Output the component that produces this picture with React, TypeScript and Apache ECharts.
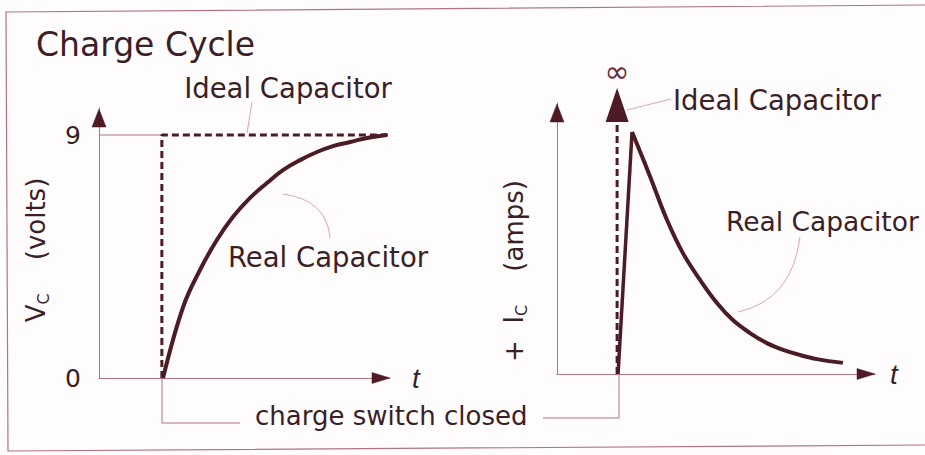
import React, { useEffect, useRef } from "react";
import * as echarts from "echarts";

// Voltage across the capacitor (left panel), x in arbitrary time units (0..100), y in volts
const voltageT = [22, 28.9, 34.7, 40.5, 46, 51.9, 57.7, 63.2, 69.1, 74.9, 80.4, 86.3, 92.1, 99];
const voltageV = [0, 2.63, 4.0, 5.11, 5.96, 6.67, 7.22, 7.7, 8.07, 8.37, 8.59, 8.74, 8.89, 9.0];
const idealVoltageT = [21.6, 21.6, 99.3];
const idealVoltageV = [0, 9, 9];
const guideT = [0, 21.6];
const guideV = [9, 9];
const voltageTicks = [0, 9];

// Current (right panel)
const currentRiseT = [19.2, 23.6];
const currentRiseI = [0, 8.93];
const currentT = [23.6, 29.2, 34.6, 39.6, 45.0, 50.3, 55.3, 60.7, 66.0, 71.1, 76.4, 81.8, 89.9];
const currentI = [8.93, 7.31, 5.68, 4.46, 3.47, 2.62, 1.99, 1.51, 1.14, 0.89, 0.7, 0.55, 0.41];
const idealCurrentT = [18.9, 18.9];
const idealCurrentI = [0, 9.3];
const infinityPoint = [18.9, 9.93];

const T_MAX = 100;
const Y_MAX = 10;

const FONT = '"DejaVu Sans", sans-serif';
const TEXT = "#3b1f26";
const AXIS = "#b27482";
const ARROW = "#4e1a26";
const CURVE = "#4b1c25";
const LEADER = "#dba6b0";

const zip = (a: number[], b: number[]) => a.map((v, i) => [v, b[i]]);

export default function App() {
  const ref = useRef<HTMLDivElement>(null);
  useEffect(() => {
    if (!ref.current) return;
    const chart = echarts.init(ref.current, undefined, { renderer: "svg" });
    const xAxisBase = (gridIndex: number, gap: number) => ({
      gridIndex,
      type: "value",
      min: 0,
      max: T_MAX,
      axisLine: { show: true, onZero: false, lineStyle: { color: AXIS, width: 1 } },
      axisTick: { show: false },
      axisLabel: { show: false },
      splitLine: { show: false },
      name: "t",
      nameLocation: "end",
      nameGap: gap,
      nameTextStyle: {
        fontSize: 28,
        fontStyle: "italic",
        fontFamily: '"Liberation Sans", sans-serif',
        color: TEXT,
        verticalAlign: "middle",
      },
    });
    const yAxisBase = (gridIndex: number, labels: boolean) => ({
      gridIndex,
      type: "value",
      min: 0,
      max: Y_MAX,
      interval: 1,
      axisLine: { show: true, onZero: false, lineStyle: { color: AXIS, width: 1 } },
      axisTick: { show: false },
      axisLabel: {
        show: labels,
        margin: 18,
        fontSize: 25,
        fontFamily: FONT,
        color: TEXT,
        formatter: (v: number) => (voltageTicks.includes(v) ? String(v) : ""),
      },
      splitLine: { show: false },
    });

    const text = (t: string, x: number, y: number, size: number, align = "center") => ({
      type: "text",
      x,
      y,
      silent: true,
      style: { text: t, fontSize: size, fontFamily: FONT, fill: TEXT, align, verticalAlign: "middle" },
    });

    chart.setOption({
      animation: false,
      backgroundColor: "#fefcfc",
      grid: [
        { left: 99, top: 108, width: 291, height: 270 },
        { left: 557, top: 103, width: 318, height: 271 },
      ],
      xAxis: [xAxisBase(0, 22), xAxisBase(1, 15)],
      yAxis: [yAxisBase(0, true), yAxisBase(1, false)],
      series: [
        {
          type: "line",
          xAxisIndex: 0,
          yAxisIndex: 0,
          data: zip(guideT, guideV),
          symbol: "none",
          lineStyle: { color: AXIS, width: 1 },
        },
        {
          type: "line",
          xAxisIndex: 0,
          yAxisIndex: 0,
          data: zip(idealVoltageT, idealVoltageV),
          symbol: "none",
          lineStyle: { color: CURVE, width: 3, type: [7, 4] },
        },
        {
          type: "line",
          xAxisIndex: 0,
          yAxisIndex: 0,
          data: zip(voltageT, voltageV),
          symbol: "none",
          smooth: 0.4,
          lineStyle: { color: CURVE, width: 4 },
        },
        {
          type: "line",
          xAxisIndex: 1,
          yAxisIndex: 1,
          data: zip(idealCurrentT, idealCurrentI),
          symbol: "none",
          lineStyle: { color: CURVE, width: 3, type: [7, 4] },
        },
        {
          type: "scatter",
          xAxisIndex: 1,
          yAxisIndex: 1,
          data: [infinityPoint],
          symbol: "triangle",
          symbolSize: [23, 34],
          itemStyle: { color: ARROW, opacity: 1 },
          label: {
            show: true,
            formatter: "∞",
            position: "top",
            distance: 1,
            fontSize: 30,
            fontFamily: FONT,
            color: "#6a2a36",
          },
        },
        {
          type: "line",
          xAxisIndex: 1,
          yAxisIndex: 1,
          data: zip(currentRiseT, currentRiseI),
          symbol: "none",
          lineStyle: { color: CURVE, width: 3.5 },
        },
        {
          type: "line",
          xAxisIndex: 1,
          yAxisIndex: 1,
          data: zip(currentT, currentI),
          symbol: "none",
          smooth: 0.4,
          lineStyle: { color: CURVE, width: 4 },
        },
      ],
    });

    // arrowheads at the axis ends, positioned through the axes' own scales
    const arrows: any[] = [];
    [0, 1].forEach((g) => {
      const xe = chart.convertToPixel({ gridIndex: g } as any, [T_MAX, 0]) as number[];
      const ye = chart.convertToPixel({ gridIndex: g } as any, [0, Y_MAX]) as number[];
      arrows.push({
        type: "polygon",
        silent: true,
        z: 10,
        shape: { points: [[xe[0], xe[1]], [xe[0] - 18, xe[1] - 5.5], [xe[0] - 18, xe[1] + 5.5]] },
        style: { fill: ARROW, stroke: ARROW, lineWidth: 0.5, opacity: 1 },
      });
      arrows.push({
        type: "polygon",
        silent: true,
        z: 10,
        shape: { points: [[ye[0], ye[1] + 1], [ye[0] - 7, ye[1] + 19], [ye[0] + 7, ye[1] + 19]] },
        style: { fill: ARROW, stroke: ARROW, lineWidth: 0.5, opacity: 1 },
      });
    });

    const yTitle = (main: string, x: number, y: number) => ({
      type: "text",
      x,
      y,
      rotation: Math.PI / 2,
      silent: true,
      style: {
        text: main,
        fontSize: 26,
        fontFamily: FONT,
        fill: TEXT,
        align: "center",
        verticalAlign: "middle",
        rich: {
          v: { fontSize: 26, fontFamily: FONT, fill: TEXT, lineHeight: 30 },
          s: { fontSize: 16, fontFamily: FONT, fill: TEXT, lineHeight: 26, verticalAlign: "bottom" },
        },
      },
    });

    chart.setOption({
      graphic: [
        {
          type: "polyline",
          silent: true,
          shape: { points: [[925, 5], [6, 12], [8, 451], [925, 445]] },
          style: { stroke: AXIS, lineWidth: 1.2, fill: null },
        },
        ...arrows,
        text("Charge Cycle", 36, 44, 33, "left"),
        text("Ideal Capacitor", 288, 88, 27.5),
        text("Real Capacitor", 328, 257, 27.5),
        text("Ideal Capacitor", 673, 100, 27.5, "left"),
        text("Real Capacitor", 726, 221, 26.5, "left"),
        text("charge switch closed", 255, 416, 26, "left"),
        yTitle("{v|V}{s|C}    (volts)", 36, 250),
        yTitle("+  {v|I}{s|C}    (amps)", 514, 271),
        { type: "line", silent: true, shape: { x1: 252, y1: 102, x2: 247, y2: 133 }, style: { stroke: LEADER, lineWidth: 1 } },
        {
          type: "bezierCurve",
          silent: true,
          shape: { x1: 283, y1: 194, cpx1: 327, cpy1: 200, x2: 330, y2: 238 },
          style: { stroke: LEADER, lineWidth: 1, fill: null },
        },
        { type: "line", silent: true, shape: { x1: 627, y1: 110, x2: 671, y2: 99 }, style: { stroke: LEADER, lineWidth: 1 } },
        {
          type: "bezierCurve",
          silent: true,
          shape: { x1: 800, y1: 237, cpx1: 792, cpy1: 300, x2: 738, y2: 312 },
          style: { stroke: LEADER, lineWidth: 1, fill: null },
        },
        {
          type: "polyline",
          silent: true,
          shape: { points: [[162, 378], [162, 423], [240, 423]] },
          style: { stroke: AXIS, lineWidth: 1, fill: null },
        },
        {
          type: "polyline",
          silent: true,
          shape: { points: [[543, 418], [619, 418], [619, 374]] },
          style: { stroke: AXIS, lineWidth: 1, fill: null },
        },
      ],
    });
    return () => chart.dispose();
  }, []);
  return <div ref={ref} style={{ position: "absolute", left: 0, top: 0, width: 925, height: 455 }} />;
}
